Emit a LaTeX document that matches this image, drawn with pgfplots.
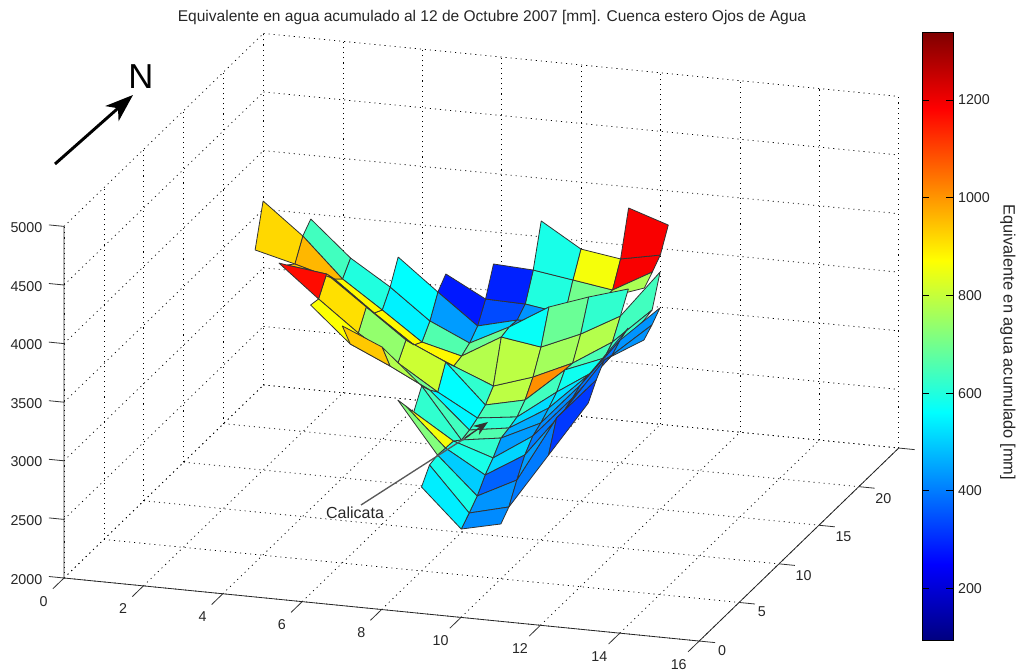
\documentclass[border=0pt]{standalone}
\usepackage{fontspec}
\setmainfont{Liberation Sans}
\usepackage{pgfplots}
\pgfplotsset{compat=1.18}
\usetikzlibrary{arrows.meta}
\definecolor{tickgray}{gray}{0.15}
\pgfplotsset{colormap={myjet}{rgb255=(0,0,128) rgb255=(0,0,255) rgb255=(0,128,255) rgb255=(0,255,255) rgb255=(128,255,128) rgb255=(255,255,0) rgb255=(255,128,0) rgb255=(255,0,0) rgb255=(128,0,0)}}
\begin{document}
\begin{tikzpicture}
\useasboundingbox (0,0) rectangle (762pt,503.25pt);
\begin{axis}[
  at={(48pt,69.75pt)},anchor=origin,
  x={(29.775pt,-2.955pt)},y={(5.985pt,5.79pt)},z={(0pt,0.0879pt)},
  xmin=0,xmax=16,ymin=0,ymax=25,zmin=2000,zmax=5000,
  xtick={0,2,...,16},ytick={0,5,...,25},ztick={2000,2500,...,5000},
  yticklabels={0,5,10,15,20,},
  /pgf/number format/assume math mode=true,
  /pgf/number format/set thousands separator={},
  scaled ticks=false,
  grid=major,
  grid style={black,line width=0.55pt,dash pattern=on 0.8pt off 3pt},
  axis line style={draw=none},
  tick align=outside,
  major tick length=0pt,
  tick style={draw=none},
  ticklabel style={font=\fontsize{10.7}{13}\selectfont,text=tickgray},
  xticklabel style={xshift=-12pt,yshift=-9.75pt},
  yticklabel style={xshift=10.5pt},
  zticklabel style={xshift=-12.75pt,yshift=4.5pt},
  clip=false,
  colormap name=myjet,
  point meta min=95,point meta max=1338,
  colorbar,
  colorbar/width=23.25pt,
  colorbar style={
    at={(683.25pt,23.25pt)},anchor=south west,
    scale only axis,width=23.25pt,height=455.5pt,
    ytick={200,400,...,1200},
    yticklabel pos=right,
    ylabel={Equivalente en agua acumulado [mm]},
    ylabel style={at={(ticklabel cs:0.49)},rotate=180,font=\fontsize{12.3}{14}\selectfont,text=tickgray},
    ylabel shift=1pt,
    axis line style={draw=black,line width=0.7pt},
    yticklabel style={xshift=0pt},
    /pgf/number format/assume math mode=true,
    /pgf/number format/set thousands separator={},
    ticklabel style={font=\fontsize{10.7}{13}\selectfont,text=tickgray},
  },
]
\addplot3[patch,patch type=rectangle,shader=flat,draw=black!80,line width=0.6pt,point meta=explicit]
table[meta=m,row sep=\\]{
x y z m \\
10 20 3741 1190 \\ 11 20 3808 1190 \\ 11 21 3998 1190 \\ 10 21 4110 1190 \\
8 19 3645 590 \\ 9 19 3594 590 \\ 9 20 3792 590 \\ 8 20 3998 590 \\
9 19 3594 860 \\ 10 19 3542 860 \\ 10 20 3741 860 \\ 9 20 3792 860 \\
10 19 3542 1190 \\ 11 19 3729 1190 \\ 11 20 3808 1190 \\ 10 20 3741 1190 \\
7 18 3430 290 \\ 8 18 3421 290 \\ 8 19 3645 290 \\ 7 19 3663 290 \\
8 18 3421 600 \\ 9 18 3369 600 \\ 9 19 3594 600 \\ 8 19 3645 600 \\
9 18 3369 700 \\ 10 18 3540 700 \\ 10 19 3542 700 \\ 9 19 3594 700 \\
10 18 3540 770 \\ 11 18 3658 770 \\ 11 19 3729 770 \\ 10 19 3542 770 \\
6 17 3522 280 \\ 7 17 3266 280 \\ 7 18 3430 280 \\ 6 18 3610 280 \\
7 17 3266 340 \\ 8 17 3350 340 \\ 8 18 3421 340 \\ 7 18 3430 340 \\
8 17 3350 430 \\ 9 17 3367 430 \\ 9 18 3369 430 \\ 8 18 3421 430 \\
5 16 3597 561 \\ 6 16 3341 561 \\ 6 17 3522 561 \\ 5 17 3787 561 \\
6 16 3341 440 \\ 7 16 3186 440 \\ 7 17 3266 440 \\ 6 17 3522 440 \\
7 16 3186 500 \\ 8 16 3357 500 \\ 8 17 3350 500 \\ 7 17 3266 500 \\
8 16 3357 430 \\ 9 16 3561 430 \\ 9 17 3367 430 \\ 8 17 3350 430 \\
3 15 4031 640 \\ 4 15 3698 640 \\ 4 16 3811 640 \\ 3 16 4110 640 \\
4 15 3698 600 \\ 5 15 3467 600 \\ 5 16 3597 600 \\ 4 16 3811 600 \\
5 15 3467 545 \\ 6 15 3227 545 \\ 6 16 3341 545 \\ 5 16 3597 545 \\
6 15 3227 660 \\ 7 15 3141 660 \\ 7 16 3186 660 \\ 6 16 3341 660 \\
7 15 3141 690 \\ 8 15 3337 690 \\ 8 16 3357 690 \\ 7 16 3186 690 \\
8 15 3337 570 \\ 9 15 3285 570 \\ 9 16 3561 570 \\ 8 16 3357 570 \\
9 15 3285 690 \\ 10 15 3430 690 \\ 10 16 3680 690 \\ 9 16 3561 690 \\
10 15 3430 620 \\ 11 15 3617 620 \\ 11 16 3782 620 \\ 10 16 3680 620 \\
2 14 3944 920 \\ 3 14 3858 920 \\ 3 15 4031 920 \\ 2 15 4296 920 \\
3 14 3858 960 \\ 4 14 3763 960 \\ 4 15 3698 960 \\ 3 15 4031 960 \\
4 14 3763 880 \\ 5 14 3507 880 \\ 5 15 3467 880 \\ 4 15 3698 880 \\
5 14 3507 880 \\ 6 14 3268 880 \\ 6 15 3227 880 \\ 5 15 3467 880 \\
6 14 3268 880 \\ 7 14 3122 880 \\ 7 15 3141 880 \\ 6 15 3227 880 \\
7 14 3122 780 \\ 8 14 2985 780 \\ 8 15 3337 780 \\ 7 15 3141 780 \\
8 14 2985 790 \\ 9 14 3095 790 \\ 9 15 3285 790 \\ 8 15 3337 790 \\
9 14 3095 760 \\ 10 14 3248 760 \\ 10 15 3430 760 \\ 9 15 3285 760 \\
10 14 3248 780 \\ 11 14 3461 780 \\ 11 15 3617 780 \\ 10 15 3430 780 \\
11 14 3461 640 \\ 12 14 3768 640 \\ 12 15 4026 640 \\ 11 15 3617 640 \\
3 13 3915 950 \\ 4 13 3872 950 \\ 4 14 3763 950 \\ 3 14 3858 950 \\
4 13 3872 890 \\ 5 13 3624 890 \\ 5 14 3507 890 \\ 4 14 3763 890 \\
5 13 3624 880 \\ 6 13 3376 880 \\ 6 14 3268 880 \\ 5 14 3507 880 \\
6 13 3376 880 \\ 7 13 3222 880 \\ 7 14 3122 880 \\ 6 14 3268 880 \\
7 13 3222 620 \\ 8 13 2889 620 \\ 8 14 2985 620 \\ 7 14 3122 620 \\
8 13 2889 790 \\ 9 13 2965 790 \\ 9 14 3095 790 \\ 8 14 2985 790 \\
9 13 2965 1010 \\ 10 13 3255 1010 \\ 10 14 3248 1010 \\ 9 14 3095 1010 \\
10 13 3255 650 \\ 11 13 3391 650 \\ 11 14 3461 650 \\ 10 14 3248 650 \\
11 13 3391 630 \\ 12 13 3748 630 \\ 12 14 3768 630 \\ 11 14 3461 630 \\
3 12 3998 1170 \\ 4 12 3725 1170 \\ 4 13 3872 1170 \\ 3 13 3915 1170 \\
4 12 3725 910 \\ 5 12 3468 910 \\ 5 13 3624 910 \\ 4 13 3872 910 \\
5 12 3468 740 \\ 6 12 3246 740 \\ 6 13 3376 740 \\ 5 13 3624 740 \\
6 12 3246 810 \\ 7 12 3032 810 \\ 7 13 3222 810 \\ 6 13 3376 810 \\
7 12 3032 560 \\ 8 12 2844 560 \\ 8 13 2889 560 \\ 7 13 3222 560 \\
8 12 2844 650 \\ 9 12 2886 650 \\ 9 13 2965 650 \\ 8 13 2889 650 \\
9 12 2886 640 \\ 10 12 3133 640 \\ 10 13 3255 640 \\ 9 13 2965 640 \\
10 12 3133 580 \\ 11 12 3354 580 \\ 11 13 3391 580 \\ 10 13 3255 580 \\
4 11 3739 870 \\ 5 11 3440 870 \\ 5 12 3468 870 \\ 4 12 3725 870 \\
5 11 3440 800 \\ 6 11 3286 800 \\ 6 12 3246 800 \\ 5 12 3468 800 \\
6 11 3286 700 \\ 7 11 3115 700 \\ 7 12 3032 700 \\ 6 12 3246 700 \\
7 11 3115 550 \\ 8 11 2807 550 \\ 8 12 2844 550 \\ 7 12 3032 550 \\
8 11 2807 620 \\ 9 11 2858 620 \\ 9 12 2886 620 \\ 8 12 2844 620 \\
9 11 2858 520 \\ 10 11 3062 520 \\ 10 12 3133 520 \\ 9 12 2886 520 \\
10 11 3062 530 \\ 11 11 3377 530 \\ 11 12 3354 530 \\ 10 12 3133 530 \\
5 10 3660 940 \\ 6 10 3514 940 \\ 6 11 3286 940 \\ 5 11 3440 940 \\
6 10 3514 780 \\ 7 10 3215 780 \\ 7 11 3115 780 \\ 6 11 3286 780 \\
7 10 3215 640 \\ 8 10 2788 640 \\ 8 11 2807 640 \\ 7 11 3115 640 \\
8 10 2788 660 \\ 9 10 2838 660 \\ 9 11 2858 660 \\ 8 11 2807 660 \\
9 10 2838 460 \\ 10 10 3000 460 \\ 10 11 3062 460 \\ 9 11 2858 460 \\
10 10 3000 470 \\ 11 10 3358 470 \\ 11 11 3377 470 \\ 10 11 3062 470 \\
11 10 3358 420 \\ 12 10 3775 420 \\ 12 11 3812 420 \\ 11 11 3377 420 \\
7 9 3059 620 \\ 8 9 2845 620 \\ 8 10 2788 620 \\ 7 10 3215 620 \\
8 9 2845 620 \\ 9 9 2734 620 \\ 9 10 2838 620 \\ 8 10 2788 620 \\
9 9 2734 440 \\ 10 9 2955 440 \\ 10 10 3000 440 \\ 9 10 2838 440 \\
10 9 2955 420 \\ 11 9 3313 420 \\ 11 10 3358 420 \\ 10 10 3000 420 \\
11 9 3313 390 \\ 12 9 3713 390 \\ 12 10 3775 390 \\ 11 10 3358 390 \\
12 9 3713 430 \\ 13 9 4003 430 \\ 13 10 4082 430 \\ 12 10 3775 430 \\
7 8 3176 860 \\ 8 8 2851 860 \\ 8 9 2845 860 \\ 7 9 3059 860 \\
8 8 2851 590 \\ 9 8 2654 590 \\ 9 9 2734 590 \\ 8 9 2845 590 \\
9 8 2654 510 \\ 10 8 2859 510 \\ 10 9 2955 510 \\ 9 9 2734 510 \\
10 8 2859 400 \\ 11 8 3276 400 \\ 11 9 3313 400 \\ 10 9 2955 400 \\
11 8 3276 360 \\ 12 8 3736 360 \\ 12 9 3713 360 \\ 11 9 3313 360 \\
12 8 3736 430 \\ 13 8 3941 430 \\ 13 9 4003 430 \\ 12 9 3713 430 \\
7 7 3293 720 \\ 8 7 2857 720 \\ 8 8 2851 720 \\ 7 8 3176 720 \\
8 7 2857 500 \\ 9 7 2541 500 \\ 9 8 2654 500 \\ 8 8 2851 500 \\
9 7 2541 370 \\ 10 7 2711 370 \\ 10 8 2859 370 \\ 9 8 2654 370 \\
10 7 2711 440 \\ 11 7 3274 440 \\ 11 8 3276 440 \\ 10 8 2859 440 \\
11 7 3274 380 \\ 12 7 3632 380 \\ 12 8 3736 380 \\ 11 8 3276 380 \\
8 6 2838 590 \\ 9 6 2462 590 \\ 9 7 2541 590 \\ 8 7 2857 590 \\
9 6 2462 430 \\ 10 6 2547 430 \\ 10 7 2711 430 \\ 9 7 2541 430 \\
10 6 2547 400 \\ 11 6 3024 400 \\ 11 7 3274 400 \\ 10 7 2711 400 \\
11 6 3024 320 \\ 12 6 3501 320 \\ 12 7 3632 320 \\ 11 7 3274 320 \\
8 5 2716 540 \\ 9 5 2391 540 \\ 9 6 2462 540 \\ 8 6 2838 540 \\
9 5 2391 420 \\ 10 5 2468 420 \\ 10 6 2547 420 \\ 9 6 2462 420 \\
};
\draw[black!85,line width=0.6pt] (axis cs:0,0,5000)--(axis cs:0,0,2000)--(axis cs:16,0,2000)--(axis cs:16,25,2000);
\pgfplotsinvokeforeach{0,2,...,16}{\draw[black!80,line width=0.6pt] (axis cs:#1,0,2000)--(axis cs:#1,-1.4,2000);}
\pgfplotsinvokeforeach{0,5,...,25}{\draw[black!80,line width=0.6pt] (axis cs:16,#1,2000)--(axis cs:16.4,#1,2000);}
\pgfplotsinvokeforeach{2000,2500,...,5000}{\draw[black!80,line width=0.6pt] (axis cs:0,0,#1)--(axis cs:-0.38,0,#1);}
\end{axis}
\begin{scope}[shift={(0pt,503.25pt)},x=0.75pt,y=-0.75pt]
\node[font=\fontsize{11.65}{14}\selectfont,text=tickgray] at (492,17) {Equivalente en agua acumulado al 12 de Octubre 2007 [mm]. Cuenca estero Ojos de Agua};
\node[font=\fontsize{26}{30}\selectfont] at (141,77) {N};
\draw[-{Stealth[length=21pt,width=15pt,inset=6pt]},black,line width=2.2pt] (55,164)--(133,95);
\draw[black!65,line width=1pt] (361,505)--(470,435);
\draw[-{Stealth[length=11pt,width=8pt]},black!80,line width=1pt] (465,438)--(488,422);
\node[font=\fontsize{12}{14}\selectfont,text=tickgray] at (355,513) {Calicata};
\foreach \yy in {100,197.7,295.4,393,490.8,588.5}{
  \draw[black,line width=0.6pt] (922,\yy)--(929,\yy) (946,\yy)--(953,\yy);
}
\end{scope}
\end{tikzpicture}
\end{document}
